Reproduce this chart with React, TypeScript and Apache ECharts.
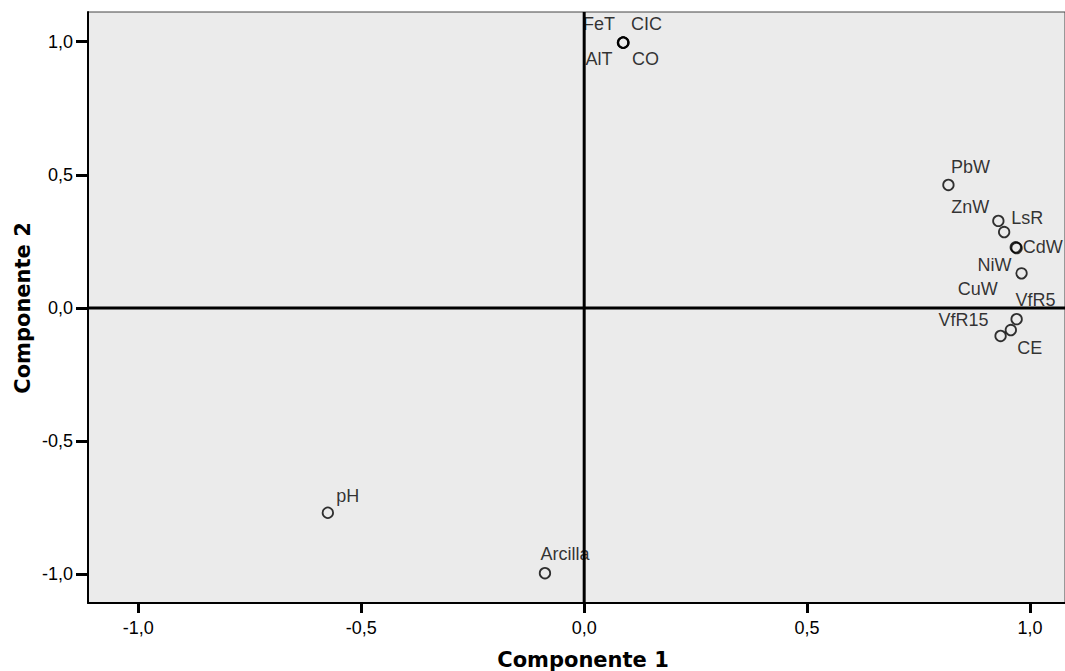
import React, { useEffect, useRef } from "react";
import * as echarts from "echarts";

const names = ["FeT", "CIC", "AlT", "CO", "PbW", "ZnW", "LsR", "CdW", "CuW", "NiW", "VfR5", "CE", "VfR15", "pH", "Arcilla"];
const comp1 = [0.087, 0.088, 0.087, 0.088, 0.817, 0.929, 0.942, 0.968, 0.970, 0.981, 0.970, 0.957, 0.934, -0.575, -0.088];
const comp2 = [0.997, 0.997, 0.996, 0.996, 0.462, 0.327, 0.285, 0.228, 0.225, 0.130, -0.042, -0.083, -0.105, -0.769, -0.996];
const tickValues = [-1, -0.5, 0, 0.5, 1];
const X_MIN = -1.113;
const X_MAX = 1.0785;
const Y_MIN = -1.108;
const Y_MAX = 1.1115;
const refVertical = [[0, Y_MIN], [0, Y_MAX]];
const refHorizontal = [[X_MIN, 0], [X_MAX, 0]];

// label offsets (pixels) from the marker centre
const labelOffsets: Record<string, [number, number]> = {
  FeT: [-24, -18],
  CIC: [23, -18],
  AlT: [-24, 16],
  CO: [22, 16],
  PbW: [22, -18],
  ZnW: [-28, -14],
  LsR: [23, -14],
  CdW: [27, 0],
  CuW: [-39, 41],
  NiW: [-27, -8],
  VfR5: [19, -19],
  CE: [19, 18],
  VfR15: [-37, -16],
  pH: [20, -17],
  Arcilla: [20, -19],
};

const FONT = "'Liberation Sans', Arial, sans-serif";
const fmt = (v: number) => v.toFixed(1).replace(".", ",");

export default function App() {
  const ref = useRef<HTMLDivElement>(null);
  useEffect(() => {
    document.body.style.margin = "0";
    if (!ref.current) return;
    const chart = echarts.init(ref.current, undefined, { renderer: "svg" });
    const data = names.map((n, i) => ({
      name: n,
      value: [comp1[i], comp2[i]],
      label: {
        show: true,
        formatter: n,
        position: "inside",
        align: "center",
        verticalAlign: "middle",
        offset: labelOffsets[n],
        color: "#000",
        fontSize: 18,
        fontFamily: FONT,
      },
    }));
    chart.setOption({
      animation: false,
      backgroundColor: "#fff",
      grid: {
        left: 88,
        top: 12,
        right: -3,
        bottom: 671 - 603,
        show: true,
        backgroundColor: "#ebebeb",
        borderColor: "#444",
        borderWidth: 1,
      },
      xAxis: {
        type: "value",
        min: X_MIN,
        max: X_MAX,
        axisLine: { show: true, onZero: false, lineStyle: { color: "#000", width: 2 } },
        axisTick: { show: true, customValues: tickValues, length: 10, lineStyle: { color: "#000", width: 3 } },
        axisLabel: {
          customValues: tickValues,
          formatter: fmt,
          color: "#000",
          fontSize: 18,
          fontFamily: FONT,
          margin: 16,
        },
        splitLine: { show: false },
      },
      yAxis: {
        type: "value",
        min: Y_MIN,
        max: Y_MAX,
        axisLine: { show: true, onZero: false, lineStyle: { color: "#000", width: 2 } },
        axisTick: { show: true, customValues: tickValues, length: 12, lineStyle: { color: "#000", width: 3 } },
        axisLabel: {
          customValues: tickValues,
          formatter: fmt,
          color: "#000",
          fontSize: 18,
          fontFamily: FONT,
          margin: 15,
        },
        splitLine: { show: false },
      },
      graphic: [
        {
          type: "text",
          x: 583,
          y: 660,
          style: {
            text: "Componente 1",
            fontSize: 21,
            fontWeight: "bold",
            fontFamily: "'DejaVu Sans', sans-serif",
            fill: "#000",
            textAlign: "center",
            textVerticalAlign: "middle",
          },
        },
        {
          type: "text",
          x: 23,
          y: 308,
          rotation: Math.PI / 2,
          style: {
            text: "Componente 2",
            fontSize: 21,
            fontWeight: "bold",
            fontFamily: "'DejaVu Sans', sans-serif",
            fill: "#000",
            textAlign: "center",
            textVerticalAlign: "middle",
          },
        },
      ],
      series: [
        {
          type: "scatter",
          data,
          symbol: "circle",
          symbolSize: 10.5,
          z: 2,
          itemStyle: { color: "rgba(0,0,0,0)", borderColor: "#000", borderWidth: 1.8 },
          emphasis: { disabled: true },
        },
        {
          type: "line",
          data: refVertical,
          symbol: "none",
          silent: true,
          z: 6,
          lineStyle: { color: "#000", width: 3 },
        },
        {
          type: "line",
          data: refHorizontal,
          symbol: "none",
          silent: true,
          z: 6,
          lineStyle: { color: "#000", width: 3 },
        },
      ],
    });
    return () => chart.dispose();
  }, []);
  return <div ref={ref} style={{ width: 1065, height: 671 }} />;
}
